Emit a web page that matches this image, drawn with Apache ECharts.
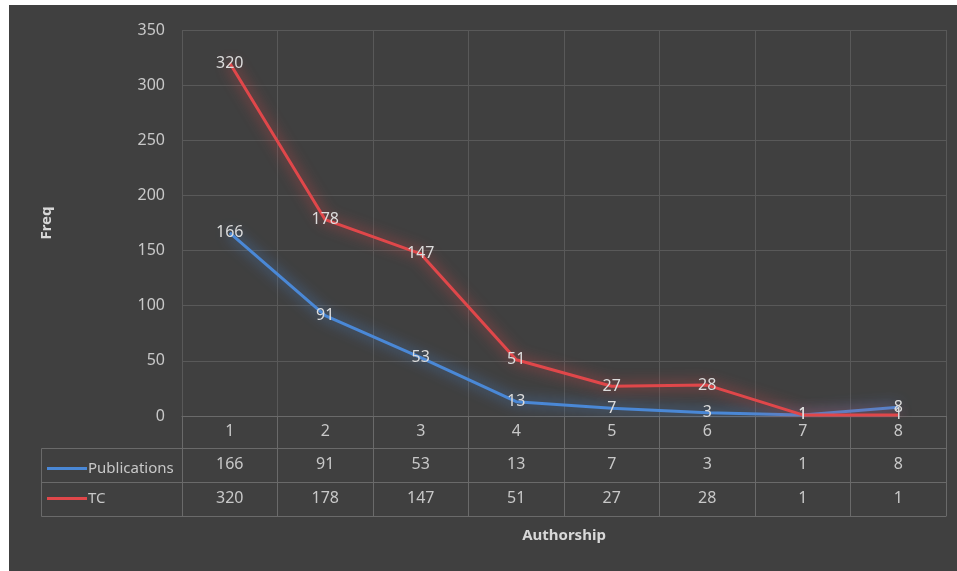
<!DOCTYPE html>
<html>
<head>
<meta charset="utf-8">
<script src="https://cdn.jsdelivr.net/npm/echarts@6/dist/echarts.min.js"></script>
<style>
  html, body { margin: 0; padding: 0; background: #fff; }
  #chart { position: absolute; left: 9px; top: 5px; width: 948px; height: 566px; }
</style>
</head>
<body>
<div id="chart"></div>
<script>
// --- Data ---
const authorship = ['1', '2', '3', '4', '5', '6', '7', '8'];
const publications = [166, 91, 53, 13, 7, 3, 1, 8];
const tc = [320, 178, 147, 51, 27, 28, 1, 1];

const BG = '#404040';
const GRID_LINE = '#595959';
const TABLE_LINE = '#6a6a6a';
const TEXT = '#c8c8c8';
const FONT = "'Noto Sans', sans-serif";
const BLUE = '#4a88d6';
const RED = '#e0474a';

const chart = echarts.init(document.getElementById('chart'));

// table row axes share the category axis look
const tableAxis = (data, offset, tickLen, margin) => ({
  type: 'category',
  data: data.map(String),
  position: 'bottom',
  offset: offset,
  axisLine: { show: true, lineStyle: { color: TABLE_LINE } },
  axisTick: { show: true, length: tickLen, lineStyle: { color: TABLE_LINE } },
  axisLabel: { color: TEXT, fontSize: 16, fontFamily: FONT, margin: margin },
  splitLine: { show: false }
});

const lineSeries = (name, data, color) => ({
  name,
  type: 'line',
  data,
  symbol: 'circle',
  symbolSize: 0,
  showAllSymbol: true,
  lineStyle: {
    color,
    width: 3,
    shadowColor: color,
    shadowBlur: 14
  },
  itemStyle: { color },
  label: {
    show: true,
    position: 'inside',
    color: '#dcdcdc',
    fontSize: 16,
    fontFamily: FONT
  }
});

const option = {
  backgroundColor: BG,
  animation: false,
  grid: { left: 173, right: 11, top: 25, bottom: 155 },
  legend: {
    orient: 'vertical',
    left: 33,
    top: 451,
    icon: 'rect',
    itemWidth: 40,
    itemHeight: 3,
    itemGap: 15,
    textStyle: { color: TEXT, fontSize: 15, fontFamily: FONT, padding: [0, 0, 0, -4] },
    data: ['Publications', 'TC']
  },
  xAxis: [
    {
      ...tableAxis(authorship, 0, 32, 7),
      splitLine: { show: true, lineStyle: { color: GRID_LINE } }
    },
    tableAxis(publications, 32, 34, 8),
    tableAxis(tc, 66, 34, 8),
    {
      type: 'category',
      data: authorship,
      position: 'bottom',
      offset: 100,
      axisLine: { show: true, lineStyle: { color: TABLE_LINE } },
      axisTick: { show: false },
      axisLabel: { show: false },
      name: 'Authorship',
      nameLocation: 'middle',
      nameGap: 12,
      nameTextStyle: {
        color: '#d8d8d8', fontSize: 15, fontWeight: 'bold', fontFamily: FONT,
        verticalAlign: 'top'
      }
    }
  ],
  yAxis: {
    type: 'value',
    min: 0,
    max: 350,
    interval: 50,
    axisLine: { show: false },
    axisTick: { show: false },
    axisLabel: { color: TEXT, fontSize: 16, fontFamily: FONT, margin: 17 },
    splitLine: { lineStyle: { color: GRID_LINE } },
    name: 'Freq',
    nameLocation: 'middle',
    nameGap: 128,
    nameTextStyle: { color: '#d8d8d8', fontSize: 15, fontWeight: 'bold', fontFamily: FONT }
  },
  // legend column of the data table
  graphic: [
    {
      type: 'rect',
      shape: { x: 32.5, y: 443.5, width: 141, height: 68 },
      style: { fill: 'none', stroke: TABLE_LINE, lineWidth: 1 },
      silent: true
    },
    {
      type: 'line',
      shape: { x1: 32.5, y1: 477.5, x2: 173.5, y2: 477.5 },
      style: { stroke: TABLE_LINE, lineWidth: 1 },
      silent: true
    }
  ],
  series: [
    lineSeries('Publications', publications, BLUE),
    lineSeries('TC', tc, RED)
  ]
};

chart.setOption(option);
window.addEventListener('resize', () => chart.resize());
</script>
</body>
</html>
